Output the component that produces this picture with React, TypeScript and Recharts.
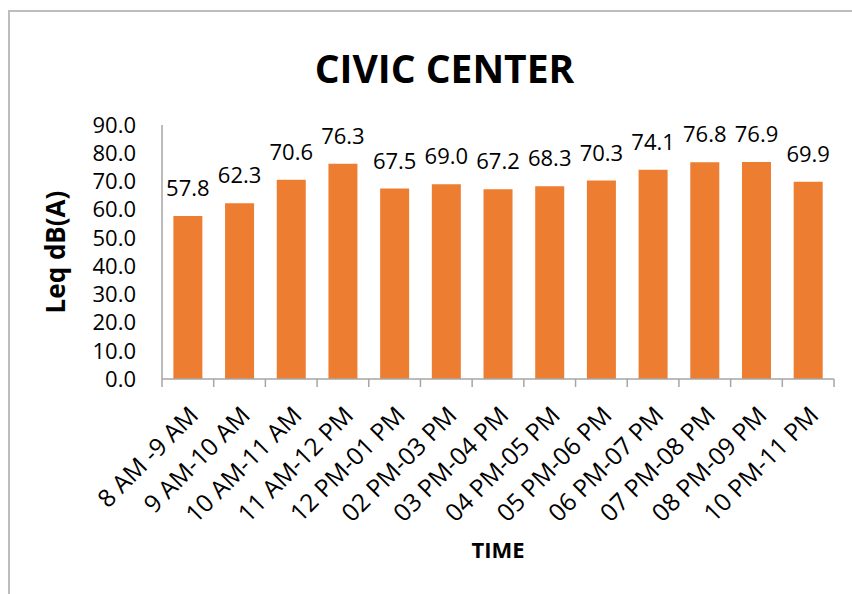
import React from 'react';
import { BarChart, Bar, XAxis, YAxis, LabelList, Label } from 'recharts';

const categories = [
  '8 AM -9 AM',
  '9 AM-10 AM',
  '10 AM-11 AM',
  '11 AM-12 PM',
  '12 PM-01 PM',
  '02 PM-03 PM',
  '03 PM-04 PM',
  '04 PM-05 PM',
  '05 PM-06 PM',
  '06 PM-07 PM',
  '07 PM-08 PM',
  '08 PM-09 PM',
  '10 PM-11 PM',
];
const leqValues = [57.8, 62.3, 70.6, 76.3, 67.5, 69.0, 67.2, 68.3, 70.3, 74.1, 76.8, 76.9, 69.9];
const yTicks = [0, 10, 20, 30, 40, 50, 60, 70, 80, 90];

const data = categories.map((c, i) => ({ time: c, leq: leqValues[i] }));

const FONT = '"Open Sans", sans-serif';
const AXIS_COLOR = '#A6A6A6';

const XTick = (props: any) => {
  const { x, y, payload, index, visibleTicksCount, width } = props;
  const half = payload && payload.offset ? payload.offset : width / visibleTicksCount / 2;
  const ay = y - 8;
  const tx = x + 12;
  const ty = ay + 38;
  return (
    <g>
      <line x1={x - half} y1={ay} x2={x - half} y2={ay + 8} stroke={AXIS_COLOR} strokeWidth={1.5} />
      {index === visibleTicksCount - 1 && (
        <line x1={x + half} y1={ay} x2={x + half} y2={ay + 8} stroke={AXIS_COLOR} strokeWidth={1.5} />
      )}
      <text
        x={tx}
        y={ty}
        textAnchor="end"
        transform={`rotate(-45 ${tx} ${ty})`}
        fontFamily={FONT}
        fontSize={24.5}
        fill="#000"
      >
        {payload.value}
      </text>
    </g>
  );
};

const YLabel = (props: any) => {
  const vb = props.viewBox || { x: 0, y: 125, width: 162, height: 254 };
  const cx = 65;
  const cy = vb.y + vb.height / 2;
  return (
    <text
      x={cx}
      y={cy}
      textAnchor="middle"
      transform={`rotate(-90 ${cx} ${cy})`}
      fontFamily={FONT}
      fontWeight={700}
      fontSize={26}
      fill="#000"
    >
      Leq dB(A)
    </text>
  );
};

export default function App() {
  return (
    <div
      style={{
        position: 'absolute',
        left: 0,
        top: 0,
        width: 852,
        height: 594,
        overflow: 'hidden',
        background: '#fff',
      }}
    >
      <div
        style={{
          position: 'absolute',
          left: 8,
          top: 10,
          width: 900,
          height: 700,
          border: '2px solid #BDBDBD',
        }}
      />
      <div
        style={{
          position: 'absolute',
          left: 0,
          top: 48,
          width: 889,
          textAlign: 'center',
          fontFamily: FONT,
          fontWeight: 700,
          fontSize: 39,
          lineHeight: 1,
          color: '#000',
        }}
      >
        CIVIC CENTER
      </div>
      <div style={{ position: 'absolute', left: 0, top: 0 }}>
        <BarChart
          width={852}
          height={594}
          data={data}
          margin={{ top: 125, right: 18, left: 0, bottom: 0 }}
          barCategoryGap="22%"
        >
          <XAxis
            dataKey="time"
            type="category"
            height={215}
            interval={0}
            axisLine={{ stroke: AXIS_COLOR, strokeWidth: 1.5 }}
            tickLine={false}
            tickSize={8}
            tickMargin={0}
            tick={<XTick />}
          >
            <Label
              value="TIME"
              position="insideBottom"
              offset={36}
              fontFamily={FONT}
              fontWeight={700}
              fontSize={22}
              fill="#000"
            />
          </XAxis>
          <YAxis
            width={162}
            domain={[0, 90]}
            ticks={yTicks}
            interval={0}
            tickFormatter={(v: number) => v.toFixed(1)}
            axisLine={{ stroke: AXIS_COLOR, strokeWidth: 1.5 }}
            tickLine={false}
            tickSize={0}
            tickMargin={26}
            tick={{ fontFamily: FONT, fontSize: 22, fill: '#000' }}
          >
            <Label content={<YLabel />} position="insideLeft" />
          </YAxis>
          <Bar dataKey="leq" fill="#ED7D31" isAnimationActive={false}>
            <LabelList
              dataKey="leq"
              position="top"
              offset={20}
              formatter={(v: any) => Number(v).toFixed(1)}
              style={{ fontFamily: FONT, fontSize: 22, fill: '#000' }}
            />
          </Bar>
        </BarChart>
      </div>
    </div>
  );
}
